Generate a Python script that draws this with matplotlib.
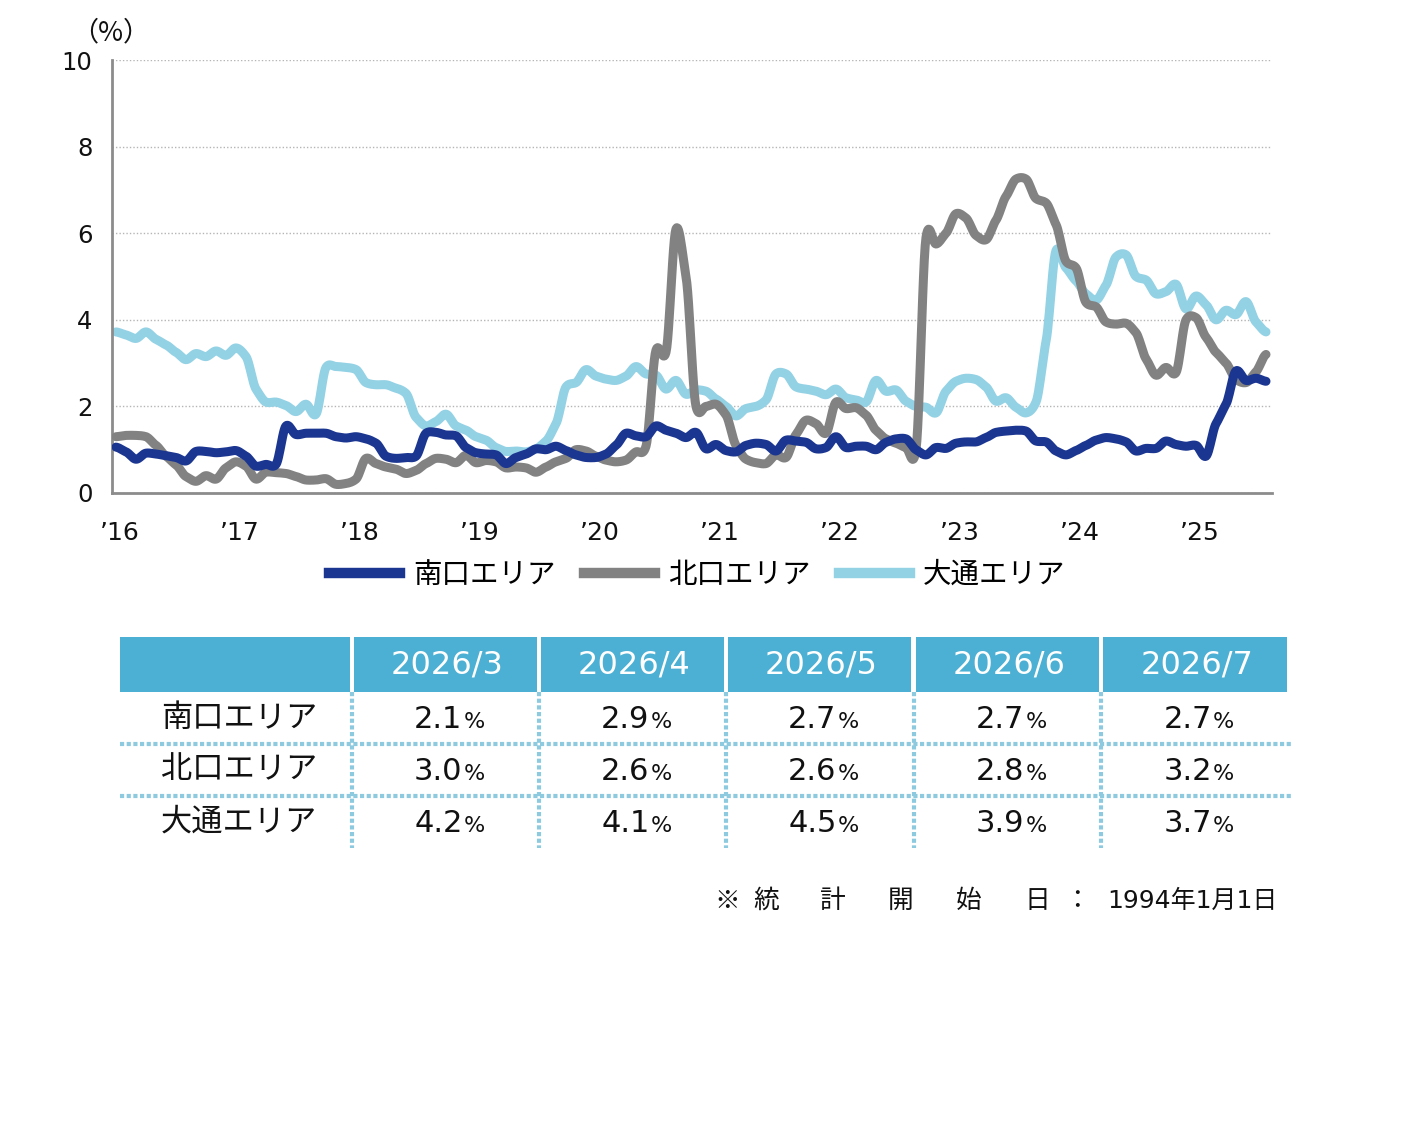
import numpy as np
import matplotlib
matplotlib.use('Agg')
import matplotlib.pyplot as plt
from matplotlib.lines import Line2D
from matplotlib.patches import Rectangle

plt.rcParams['font.family'] = ['DejaVu Sans', 'Noto Sans CJK JP']

# ---------------- data ----------------
series_names = ['南口エリア', '北口エリア', '大通エリア']

minami = [1.06, 0.95, 0.78, 0.92, 0.90, 0.86, 0.82, 0.74, 0.96, 0.96,
          0.93, 0.95, 0.98, 0.85, 0.62, 0.66, 0.66, 1.55, 1.35, 1.38,
          1.38, 1.38, 1.30, 1.27, 1.30, 1.25, 1.15, 0.85, 0.80, 0.82,
          0.85, 1.38, 1.40, 1.34, 1.32, 1.05, 0.93, 0.90, 0.88, 0.68,
          0.82, 0.90, 1.02, 1.00, 1.08, 0.98, 0.88, 0.82, 0.82, 0.90,
          1.10, 1.38, 1.32, 1.30, 1.55, 1.45, 1.38, 1.28, 1.40, 1.02,
          1.12, 0.98, 0.95, 1.10, 1.15, 1.12, 0.97, 1.22, 1.20, 1.17,
          1.02, 1.05, 1.30, 1.05, 1.08, 1.08, 1.00, 1.17, 1.25, 1.25,
          1.00, 0.88, 1.05, 1.03, 1.15, 1.18, 1.18, 1.28, 1.40, 1.43,
          1.45, 1.43, 1.20, 1.18, 0.97, 0.88, 0.98, 1.10, 1.22, 1.28,
          1.25, 1.18, 0.97, 1.03, 1.03, 1.20, 1.12, 1.08, 1.10, 0.85,
          1.60, 2.05, 2.82, 2.60, 2.65, 2.58]

kita = [1.30, 1.33, 1.33, 1.30, 1.10, 0.85, 0.65, 0.38, 0.27, 0.40,
        0.32, 0.58, 0.72, 0.62, 0.32, 0.48, 0.47, 0.45, 0.38, 0.30,
        0.30, 0.33, 0.20, 0.22, 0.32, 0.80, 0.68, 0.60, 0.55, 0.45,
        0.52, 0.68, 0.80, 0.78, 0.70, 0.87, 0.70, 0.75, 0.72, 0.58,
        0.60, 0.58, 0.48, 0.60, 0.72, 0.80, 1.00, 0.97, 0.85, 0.76,
        0.72, 0.76, 0.95, 1.08, 3.30, 3.25, 6.10, 5.00, 2.00, 2.00,
        2.05, 1.80, 1.10, 0.78, 0.70, 0.68, 0.88, 0.82, 1.35, 1.68,
        1.60, 1.38, 2.10, 1.95, 1.97, 1.80, 1.45, 1.25, 1.15, 1.05,
        1.00, 5.90, 5.75, 6.00, 6.45, 6.35, 5.95, 5.85, 6.30, 6.85,
        7.25, 7.25, 6.80, 6.70, 6.20, 5.35, 5.20, 4.40, 4.30, 3.95,
        3.90, 3.92, 3.70, 3.10, 2.72, 2.90, 2.78, 4.00, 4.05, 3.60,
        3.25, 3.00, 2.62, 2.55, 2.80, 3.20]

odori = [3.72, 3.65, 3.57, 3.72, 3.55, 3.42, 3.25, 3.08, 3.22, 3.15,
         3.28, 3.18, 3.35, 3.15, 2.40, 2.10, 2.10, 2.02, 1.88, 2.05,
         1.82, 2.90, 2.92, 2.90, 2.85, 2.55, 2.50, 2.50, 2.42, 2.30,
         1.75, 1.55, 1.65, 1.82, 1.55, 1.45, 1.30, 1.22, 1.05, 0.96,
         0.97, 0.95, 1.02, 1.20, 1.60, 2.45, 2.55, 2.85, 2.70, 2.63,
         2.60, 2.70, 2.92, 2.75, 2.72, 2.40, 2.60, 2.28, 2.38, 2.35,
         2.17, 2.00, 1.78, 1.95, 2.00, 2.15, 2.75, 2.75, 2.45, 2.40,
         2.35, 2.27, 2.40, 2.20, 2.15, 2.10, 2.60, 2.35, 2.38, 2.12,
         2.00, 1.98, 1.85, 2.35, 2.58, 2.65, 2.62, 2.45, 2.12, 2.20,
         1.98, 1.85, 2.10, 3.50, 5.60, 5.20, 4.90, 4.60, 4.45, 4.80,
         5.45, 5.50, 5.00, 4.92, 4.60, 4.65, 4.82, 4.25, 4.55, 4.35,
         4.00, 4.22, 4.12, 4.42, 3.95, 3.72]

year_labels = ['’16', '’17', '’18', '’19', '’20', '’21', '’22', '’23', '’24', '’25']
y_ticks = [0, 2, 4, 6, 8, 10]

table_months = ['2026/3', '2026/4', '2026/5', '2026/6', '2026/7']
table_minami = [2.1, 2.9, 2.7, 2.7, 2.7]
table_kita = [3.0, 2.6, 2.6, 2.8, 3.2]
table_odori = [4.2, 4.1, 4.5, 3.9, 3.7]

note_parts = ['※', '統', '計', '開', '始', '日', '：', '1994年1月1日']

# ---------------- styles ----------------
c_minami = '#1b3690'
c_kita = '#828282'
c_odori = '#93d1e5'
c_header = '#4bb0d3'
c_sep = '#8ecadf'

W, H = 1412, 1148
JP = ['Noto Sans CJK JP', 'DejaVu Sans']


def smooth(y, n=12, s=0.65):
    """cardinal spline through the data points (display smoothing only)"""
    y = np.asarray(y, float)
    p = np.concatenate([[y[0]], y, [y[-1]]])
    m = s * (p[2:] - p[:-2]) / 2.0
    t = np.linspace(0, 1, n, endpoint=False)
    h00 = 2 * t ** 3 - 3 * t ** 2 + 1
    h10 = t ** 3 - 2 * t ** 2 + t
    h01 = -2 * t ** 3 + 3 * t ** 2
    h11 = t ** 3 - t ** 2
    xs, ys = [], []
    for i in range(len(y) - 1):
        xs.append(i + t)
        ys.append(h00 * y[i] + h10 * m[i] + h01 * y[i + 1] + h11 * m[i + 1])
    xs.append([len(y) - 1])
    ys.append([y[-1]])
    return np.concatenate(xs), np.concatenate(ys)


fig = plt.figure(figsize=(W / 100, H / 100), dpi=100)
ax = fig.add_axes([112 / W, 1 - 493 / H, 1160 / W, 433 / H])

for vals, col, z in [(odori, c_odori, 2), (kita, c_kita, 3), (minami, c_minami, 4)]:
    xs, ys = smooth(vals)
    ax.plot(xs, ys, color=col, lw=6.5, solid_capstyle='round', solid_joinstyle='round', zorder=z)

ax.set_xlim(-0.4, 115.6)
ax.set_ylim(0, 10)
ax.set_yticks(y_ticks)
ax.set_yticklabels([str(v) for v in y_ticks], fontsize=17.5, color='#111111')
ax.set_xticks([0.4 + 12 * k for k in range(len(year_labels))])
ax.set_xticklabels(year_labels, fontsize=18, color='#111111')
ax.tick_params(axis='both', length=0)
ax.tick_params(axis='y', pad=14)
ax.tick_params(axis='x', pad=20)
for s in ['top', 'right']:
    ax.spines[s].set_visible(False)
for s in ['left', 'bottom']:
    ax.spines[s].set_color('#8c8c8c')
    ax.spines[s].set_linewidth(2)
ax.yaxis.grid(True, linestyle=(0, (1, 1.5)), color='#b5b5b5', lw=1)
ax.set_axisbelow(True)

fig.text(111 / W, 1 - 33 / H, '（%）', fontsize=19.5, ha='center', va='center',
         family=JP, color='#111111')

handles = [Line2D([0], [0], color=c, lw=7.5) for c in (c_minami, c_kita, c_odori)]
fig.legend(handles, series_names, loc='center', bbox_to_anchor=(697 / W, 1 - 575 / H),
           ncol=3, frameon=False, fontsize=20.5, handlelength=2.5, handletextpad=0.45,
           columnspacing=1.0)

# ---------------- table ----------------
tax = fig.add_axes([0, 0, 1, 1])
tax.set_xlim(0, W)
tax.set_ylim(H, 0)
tax.axis('off')

starts = [120, 354, 541, 728, 916, 1103]
ends = [350, 537, 724, 911, 1099, 1287]
for s, e in zip(starts, ends):
    tax.add_patch(Rectangle((s, 637), e - s, 55, color=c_header, lw=0))
for j, m in enumerate(table_months):
    cx = (starts[j + 1] + ends[j + 1]) / 2
    tax.text(cx + 2, 665, m, color='white', fontsize=23, ha='center', va='center')

row_vals = [table_minami, table_kita, table_odori]
row_centers = [718, 770, 822]
row_base = [728, 780, 832]
for r, (name, vals) in enumerate(zip(series_names, row_vals)):
    tax.text(239, row_centers[r], name, fontsize=22.5, ha='center', va='center', color='#111111')
    for j, v in enumerate(vals):
        cx = (starts[j + 1] + ends[j + 1]) / 2
        tax.text(cx + 17, row_base[r], f'{v:.1f}', fontsize=22, ha='right', va='baseline', color='#111111')
        tax.text(cx + 18, row_base[r], '%', fontsize=16, ha='left', va='baseline', color='#111111')

for yy in [743.5, 795.5]:
    tax.plot([120, 1292], [yy, yy], color=c_sep, lw=3, linestyle=(0, (1, 0.6)))
for xx in [352, 539, 726, 914, 1101]:
    tax.plot([xx, xx], [692, 848], color=c_sep, lw=3, linestyle=(0, (1, 0.6)))

note_x = [727, 766, 833, 901, 969, 1037, 1077]
for x, t in zip(note_x, note_parts[:-1]):
    tax.text(x, 901, t, fontsize=18.5, ha='center', va='center', color='#111111', family=JP)
tax.text(1278, 901, note_parts[-1], fontsize=18, ha='right', va='center', color='#111111')

fig.savefig('out.png', dpi=100)
